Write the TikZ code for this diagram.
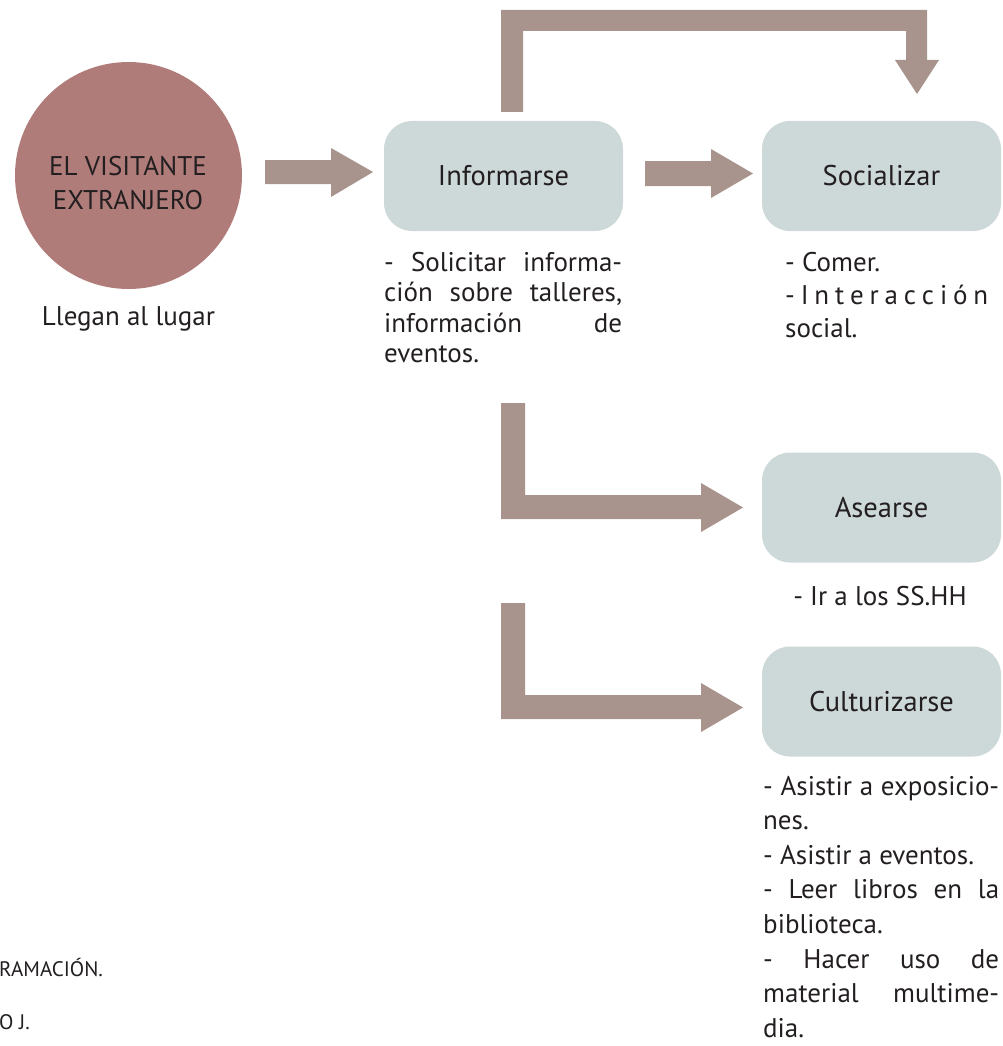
\documentclass[tikz,border=0pt]{standalone}
\usepackage{fontspec}
\setmainfont{PT Sans}
\definecolor{circfill}{HTML}{B07C7A}
\definecolor{arrfill}{HTML}{A8938D}
\definecolor{boxfill}{HTML}{CDD8D9}
\definecolor{ink}{HTML}{231F20}
\newcommand\cstack[2]{\vtop{\baselineskip=#1\halign{\hfil##\hfil\cr#2\crcr}}}
\newcommand\lstack[2]{\vtop{\baselineskip=#1\halign{##\hfil\cr#2\crcr}}}
\newcommand\jl[2]{\makebox[#1][s]{#2}}
\begin{document}
\begin{tikzpicture}[x=1pt,y=-1pt,
  blockarrow/.style={fill=arrfill,draw=none},
  procbox/.style={fill=boxfill,draw=none,rounded corners=28pt,minimum width=239pt,minimum height=110pt,inner sep=0pt,text=ink,font=\fontsize{28.5}{32}\selectfont},
  txt/.style={inner sep=0pt,text=ink,font=\fontsize{27}{32}\selectfont},
  small/.style={inner sep=0pt,text=ink,font=\fontsize{21}{24}\selectfont}]
\useasboundingbox (0,0) rectangle (1003,1046);
% visitor circle
\node[circle,fill=circfill,minimum size=227pt,inner sep=0pt] (vis) at (128.5,175.5) {};
\node[txt,anchor=base] (vistxt) at (128,175) {\cstack{35pt}{EL VISITANTE\cr EXTRANJERO}};
\node[txt,anchor=base] (lleg) at (128.5,325) {Llegan al lugar};
% boxes
\node[procbox] (inf) at (503.5,176) {Informarse};
\node[procbox] (soc) at (881.5,176) {Socializar};
\node[procbox] (ase) at (881.5,507.5) {Asearse};
\node[procbox] (cul) at (881.5,701.5) {Culturizarse};
% block arrows
\path[blockarrow] (265,160) -- (331,160) -- (331,148) -- (373,172) -- (331,197) -- (331,184) -- (265,184) -- cycle;
\path[blockarrow] (645,161) -- (711,161) -- (711,149) -- (753,173.5) -- (711,198) -- (711,186) -- (645,186) -- cycle;
\path[blockarrow] (501,112) -- (501,10) -- (927,10) -- (927,60) -- (939,60) -- (917,94) -- (895,60) -- (906,60) -- (906,31) -- (523,31) -- (523,112) -- cycle;
\path[blockarrow] (501,403) -- (525,403) -- (525,495) -- (701,495) -- (701,483) -- (743,507.5) -- (701,532) -- (701,519) -- (501,519) -- cycle;
\path[blockarrow] (501,603) -- (525,603) -- (525,695) -- (701,695) -- (701,683) -- (743,707.5) -- (701,732) -- (701,719) -- (501,719) -- cycle;
% descriptions
\node[txt,anchor=base west] (dinf) at (384,271) {\lstack{30.5pt}{\jl{238pt}{- Solicitar informa-}\cr \jl{238pt}{ción sobre talleres,}\cr \jl{238pt}{información de}\cr eventos.}};
\node[txt,anchor=base west] (dsoc) at (785,271) {\lstack{33pt}{- Comer.\cr \jl{203pt}{- I n t e r a c c i ó n}\cr social.}};
\node[txt,anchor=base] (dase) at (880,605) {- Ir a los SS.HH};
\node[txt,anchor=base west] (dcul) at (763,795) {\lstack{34.6pt}{\jl{236pt}{- Asistir a exposicio-}\cr nes.\cr - Asistir a eventos.\cr \jl{236pt}{- Leer libros en la}\cr biblioteca.\cr \jl{236pt}{- Hacer uso de}\cr \jl{236pt}{material multime-}\cr dia.}};
% cropped side notes
\node[small,anchor=base west] (n1) at (-1,976) {RAMACIÓN.};
\node[small,anchor=base west] (n2) at (-1,1029) {O J.};
\end{tikzpicture}
\end{document}
